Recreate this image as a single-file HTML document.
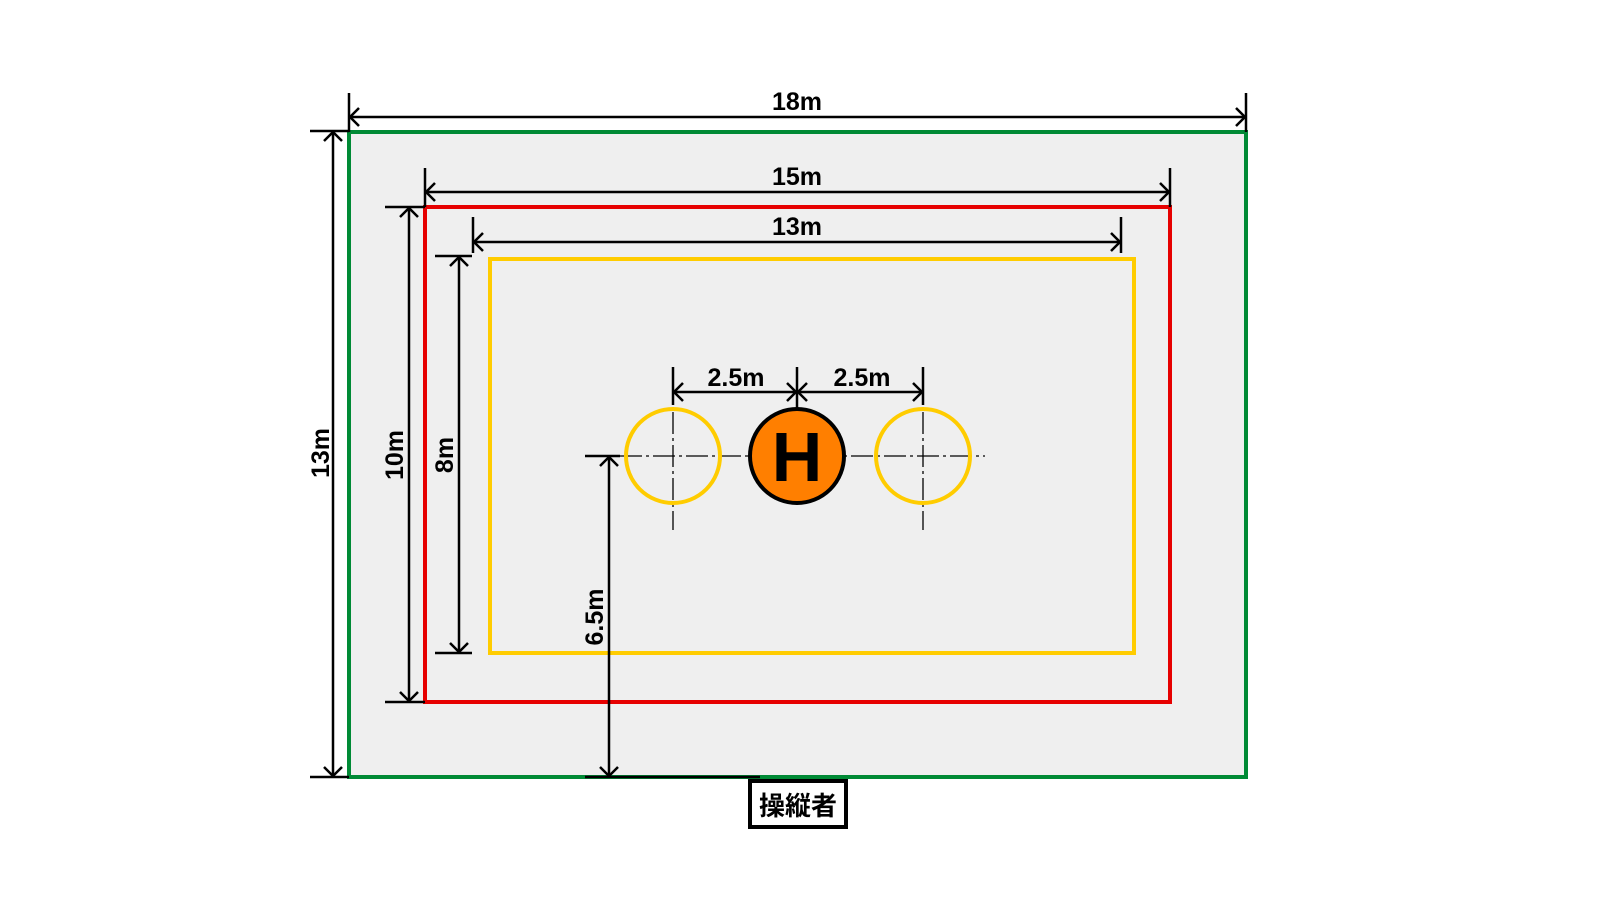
<!DOCTYPE html>
<html><head><meta charset="utf-8"><style>
html,body{margin:0;padding:0;background:#fff;}
svg{display:block;}
text{font-family:"Liberation Sans","Noto Sans CJK JP",sans-serif;font-weight:bold;fill:#000;}
</style></head><body>
<svg width="1600" height="900" viewBox="0 0 1600 900" xmlns="http://www.w3.org/2000/svg">
<rect x="349" y="132" width="897" height="645" fill="#efefef" stroke="#008a35" stroke-width="4"/>
<rect x="425" y="207" width="745" height="495" fill="none" stroke="#e60000" stroke-width="4"/>
<rect x="490" y="259" width="644" height="394" fill="none" stroke="#ffcc00" stroke-width="4"/>
<g stroke="#000" stroke-width="2.5" fill="none">
<line x1="349" y1="93" x2="349" y2="132"/><line x1="1246" y1="93" x2="1246" y2="132"/>
<line x1="349" y1="117" x2="1246" y2="117"/>
<polyline points="359,108 350,117 359,126"/><polyline points="1236,108 1245,117 1236,126"/>
<line x1="425" y1="168" x2="425" y2="207"/><line x1="1170" y1="168" x2="1170" y2="207"/>
<line x1="425" y1="192" x2="1170" y2="192"/>
<polyline points="435,183 426,192 435,201"/><polyline points="1160,183 1169,192 1160,201"/>
<line x1="473" y1="217" x2="473" y2="253"/><line x1="1121" y1="217" x2="1121" y2="253"/>
<line x1="473" y1="242" x2="1121" y2="242"/>
<polyline points="483,233 474,242 483,251"/><polyline points="1111,233 1120,242 1111,251"/>
<line x1="310" y1="131" x2="349" y2="131"/><line x1="310" y1="777" x2="349" y2="777"/>
<line x1="333" y1="131" x2="333" y2="777"/>
<polyline points="324,141 333,132 342,141"/><polyline points="324,767 333,776 342,767"/>
<line x1="385" y1="207" x2="425" y2="207"/><line x1="385" y1="702" x2="425" y2="702"/>
<line x1="409" y1="207" x2="409" y2="702"/>
<polyline points="400,217 409,208 418,217"/><polyline points="400,692 409,701 418,692"/>
<line x1="435" y1="256" x2="472" y2="256"/><line x1="435" y1="653" x2="472" y2="653"/>
<line x1="459" y1="256" x2="459" y2="653"/>
<polyline points="450,266 459,257 468,266"/><polyline points="450,643 459,652 468,643"/>
<line x1="585" y1="456" x2="620" y2="456"/><line x1="585" y1="777" x2="760" y2="777"/>
<line x1="609" y1="456" x2="609" y2="777"/>
<polyline points="600,466 609,457 618,466"/><polyline points="600,767 609,776 618,767"/>
<line x1="673" y1="367" x2="673" y2="405"/><line x1="797" y1="367" x2="797" y2="410"/><line x1="923" y1="367" x2="923" y2="405"/>
<line x1="673" y1="392" x2="923" y2="392"/>
<polyline points="683,383 674,392 683,401"/><polyline points="787,383 796,392 787,401"/>
<polyline points="807,383 798,392 807,401"/><polyline points="913,383 922,392 913,401"/>
</g>
<g stroke="#000" stroke-width="1.3" fill="none" stroke-dasharray="22,4,3,4">
<line x1="620" y1="456" x2="985" y2="456"/>
<line x1="673" y1="412" x2="673" y2="530"/>
<line x1="923" y1="412" x2="923" y2="530"/>
</g>
<circle cx="673" cy="456" r="47" fill="none" stroke="#ffcc00" stroke-width="4"/>
<circle cx="923" cy="456" r="47" fill="none" stroke="#ffcc00" stroke-width="4"/>
<circle cx="797" cy="456" r="47" fill="#ff7f00" stroke="#000" stroke-width="4"/>
<text x="797" y="481" font-size="70" text-anchor="middle">H</text>
<g font-size="25" text-anchor="middle">
<text x="797" y="110">18m</text>
<text x="797" y="185">15m</text>
<text x="797" y="235">13m</text>
<text x="736" y="386">2.5m</text>
<text x="862" y="386">2.5m</text>
<text transform="translate(329,453) rotate(-90)">13m</text>
<text transform="translate(403,455) rotate(-90)">10m</text>
<text transform="translate(453,455) rotate(-90)">8m</text>
<text transform="translate(603,617) rotate(-90)">6.5m</text>
</g>
<rect x="750" y="781" width="96" height="46" fill="#fff" stroke="#000" stroke-width="4"/>
<text x="798" y="815" font-size="26" text-anchor="middle">操縦者</text>
</svg>
</body></html>
